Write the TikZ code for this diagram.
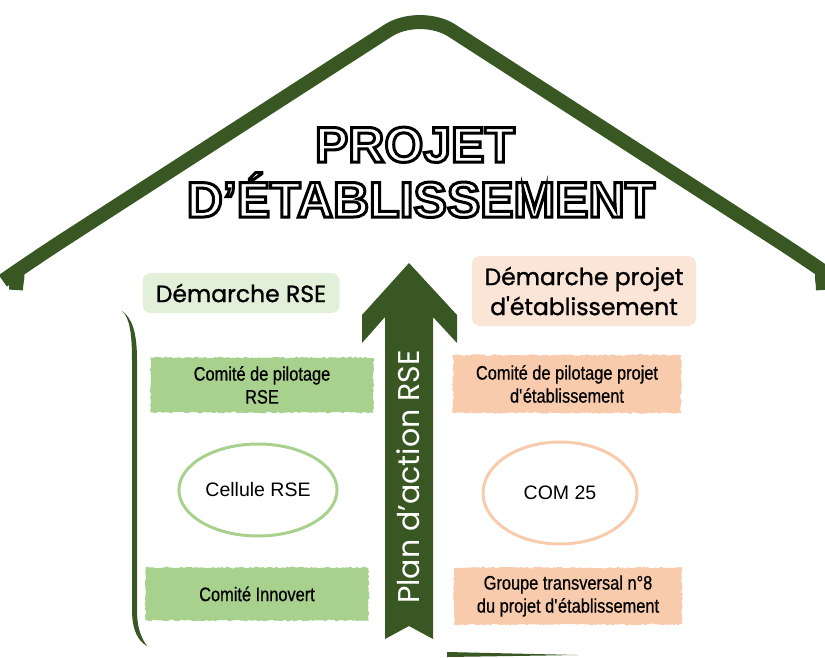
\documentclass[tikz,border=0pt]{standalone}
\usepackage{fontspec}
\usepackage{graphicx}
\setmainfont{Liberation Sans}
\newfontfamily\headfont[FakeBold=1.2]{Poppins}
\newfontfamily\arrowfont{Poppins}
\newfontfamily\narrowfont[FakeStretch=0.84,FakeBold=0.6]{Liberation Sans}
\newfontfamily\titlefont[FakeBold=6]{Liberation Sans Bold}
\usetikzlibrary{shapes.geometric,decorations.pathmorphing}
\definecolor{dkgreen}{HTML}{385723}
\definecolor{ltgreen}{HTML}{A9D18E}
\definecolor{palegreen}{HTML}{E2F0D9}
\definecolor{peach}{HTML}{F8CBAD}
\definecolor{palepeach}{HTML}{FBE5D6}
% white letters, black outline
\newcommand\hollow[1]{\special{pdf:bcolor [1] [0]}#1\special{pdf:ecolor}}
\begin{document}
\begin{tikzpicture}[x=1pt,y=-1pt,
    brush/.style={decorate,decoration={random steps,segment length=2pt,amplitude=0.9pt},
      minimum width=228,minimum height=55,inner sep=0pt,align=center,
      font=\narrowfont\fontsize{19.5}{23}\selectfont},
    ring/.style={ellipse,line width=3,minimum width=152,minimum height=92,
      font=\fontsize{19.5}{23}\selectfont},
    head/.style={rounded corners=8,inner sep=0pt,align=center,
      font=\headfont\fontsize{23.5}{30}\selectfont}]
    \pgfmathsetseed{7}
    \useasboundingbox (0,0) rectangle (825,657);
    % roof
    \draw[dkgreen,line width=14,rounded corners=38] (16,290) .. controls (16,276) and (24,266) .. (34,259)
        -- (420,10) -- (806,259) .. controls (816,266) and (823,276) .. (823,290);
    % left wall and bottom line
    \fill[dkgreen] (122,311) .. controls (130,318) and (132,335) .. (132,360) -- (132,610)
        .. controls (132,630) and (138,641) .. (147,646)
        .. controls (140,636) and (137,626) .. (137,610) -- (137,360)
        .. controls (137,332) and (132,318) .. (122,311) -- cycle;
    \fill[dkgreen] (447,652) -- (578,655) -- (447,657) -- cycle;
    % title
    \node[anchor=base,font=\titlefont\fontsize{50}{55}\selectfont] (t1) at (415,162) {\hollow{PROJET}};
    \node[anchor=base,font=\titlefont\fontsize{50}{55}\selectfont] (t2) at (421,217) {\hollow{D’ÉTABLISSEMENT}};
    % arrow
    \fill[dkgreen] (409,263) -- (457,315) -- (457,343) -- (433,317) -- (433,639) -- (409,626)
        -- (385,639) -- (385,317) -- (362,343) -- (362,315) -- cycle;
    \node[rotate=90,anchor=base,text=white,font=\arrowfont\fontsize{30}{32}\selectfont] (plan) at (419,477) {Plan d’action RSE};
    % left column
    \node[head,fill=palegreen,minimum width=197,minimum height=40] (rse) at (241,293) {Démarche RSE};
    \node[brush,fill=ltgreen,minimum width=223] (copil) at (262,385) {Comité de pilotage\\RSE};
    \node[ring,draw=ltgreen] (cell) at (258,490) {Cellule RSE};
    \node[brush,fill=ltgreen,minimum width=223,minimum height=53] (innov) at (257,594) {Comité Innovert};
    % right column
    \node[head,fill=palepeach,minimum width=224,minimum height=70] (pe) at (584,291) {Démarche projet\\d\textquotesingle{}établissement};
    \node[brush,fill=peach,minimum height=58] (copilpe) at (567,384) {Comité de pilotage projet\\d\textquotesingle{}établissement};
    \node[ring,draw=peach,minimum width=154,minimum height=102] (com) at (560,493) {COM 25};
    \node[brush,fill=peach,minimum height=57] (gt) at (568,596) {Groupe transversal n°8\\du projet d\textquotesingle{}établissement};
\end{tikzpicture}
\end{document}
